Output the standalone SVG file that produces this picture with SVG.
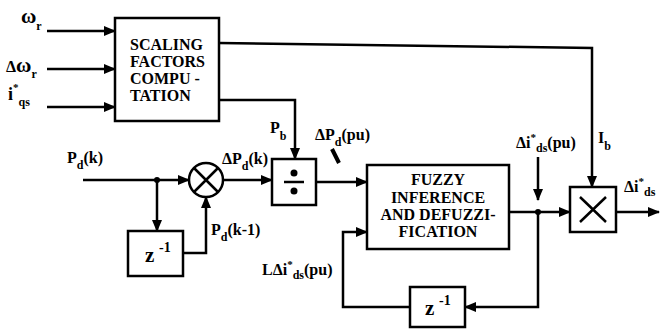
<svg xmlns="http://www.w3.org/2000/svg" width="661" height="329" viewBox="0 0 661 329">
<style>
.ln{fill:none;stroke:#000;stroke-width:2.5}
.bx{fill:#fff;stroke:#000;stroke-width:2.5}
.thick{fill:none;stroke:#000;stroke-width:4}
</style>
<defs>
<marker id="ah" markerUnits="userSpaceOnUse" markerWidth="12" markerHeight="10" refX="11" refY="5" orient="auto"><path d="M0,0 L12,5 L0,10 Z"/></marker>
</defs>
<rect width="661" height="329" fill="#fff"/>
<g id="connectors">
<path class="ln" marker-end="url(#ah)" d="M47,31 H115"/>
<path class="ln" marker-end="url(#ah)" d="M47,69 H115"/>
<path class="ln" marker-end="url(#ah)" d="M47,107 H115"/>
<path class="ln" marker-end="url(#ah)" d="M219,43 L592,48 V187"/>
<path class="ln" marker-end="url(#ah)" d="M219,100 H295 V159"/>
<path class="ln" marker-end="url(#ah)" d="M83,180 H189"/>
<path class="ln" marker-end="url(#ah)" d="M157,180 V231"/>
<path class="ln" marker-end="url(#ah)" d="M183,253 H206 V197"/>
<path class="ln" marker-end="url(#ah)" d="M223,180 H272"/>
<path class="ln" marker-end="url(#ah)" d="M316,182 H367"/>
<path class="ln" marker-end="url(#ah)" d="M509,212 H570"/>
<path class="ln" marker-end="url(#ah)" d="M538,157 V200"/>
<path class="ln" marker-end="url(#ah)" d="M616,212 H659"/>
<path class="ln" marker-end="url(#ah)" d="M538,212 V307 H465"/>
<path class="ln" marker-end="url(#ah)" d="M410,307 H343 V232 H367"/>
<path class="thick" d="M332,149 L339,163"/>
<circle cx="157" cy="180" r="3"/>
<circle cx="538" cy="212" r="3"/>
</g>
<g font-family="Liberation Serif, Times New Roman, serif" font-weight="bold" fill="#000">
<g id="scaling">
<rect class="bx" x="115" y="18" width="104" height="103"/>
<text font-size="16" x="130" y="50">SCALING</text>
<text font-size="16" x="130" y="67">FACTORS</text>
<text font-size="16" x="130" y="84">COMPU -</text>
<text font-size="16" x="130" y="101">TATION</text>
</g>
<g id="sum">
<circle class="bx" cx="206" cy="180" r="17"/>
<path class="ln" d="M194,168 L218,192 M218,168 L194,192"/>
</g>
<g id="delay1">
<rect class="bx" x="128" y="231" width="55" height="45"/>
<text font-size="21" x="145" y="262">z</text>
<text font-size="14" x="159" y="252">-1</text>
</g>
<g id="divide">
<rect class="bx" x="272" y="159" width="44" height="46"/>
<circle cx="294" cy="173" r="3.5"/>
<circle cx="294" cy="191" r="3.5"/>
<path class="ln" d="M284,182 H304"/>
</g>
<g id="fuzzy">
<rect class="bx" x="367" y="165" width="142" height="84"/>
<text font-size="16" x="438" y="185" text-anchor="middle">FUZZY</text>
<text font-size="16" x="438" y="203" text-anchor="middle">INFERENCE</text>
<text font-size="16" x="438" y="220" text-anchor="middle">AND DEFUZZI-</text>
<text font-size="16" x="438" y="237" text-anchor="middle">FICATION</text>
</g>
<g id="multiply">
<rect class="bx" x="570" y="187" width="46" height="45"/>
<path class="ln" d="M580,197 L606,222 M606,197 L580,222"/>
</g>
<g id="delay2">
<rect class="bx" x="410" y="287" width="55" height="40"/>
<text font-size="21" x="425" y="315">z</text>
<text font-size="14" x="439" y="305">-1</text>
</g>
<g id="labels" font-size="16">
<text x="21" y="23" font-size="21">ω<tspan font-size="12" dy="7">r</tspan></text>
<text x="6" y="72" font-size="16">Δ<tspan font-size="21">ω</tspan><tspan font-size="12" dy="6">r</tspan></text>
<text x="8" y="100" font-size="18">i<tspan font-size="11" dy="-9">*</tspan><tspan font-size="12" dy="15">qs</tspan></text>
<text x="67" y="163">P<tspan font-size="12" dy="6">d</tspan><tspan dy="-6">(k)</tspan></text>
<text x="222" y="164">ΔP<tspan font-size="12" dy="6">d</tspan><tspan dy="-6">(k)</tspan></text>
<text x="270" y="133">P<tspan font-size="12" dy="7">b</tspan></text>
<text x="315" y="140">ΔP<tspan font-size="12" dy="6">d</tspan><tspan dy="-6">(pu)</tspan></text>
<text x="211" y="235">P<tspan font-size="12" dy="6">d</tspan><tspan dy="-6">(k-1)</tspan></text>
<text x="516" y="148">Δi<tspan font-size="11" dy="-7">*</tspan><tspan font-size="12" dy="11">ds</tspan><tspan dy="-4">(pu)</tspan></text>
<text x="598" y="143">I<tspan font-size="12" dy="7">b</tspan></text>
<text x="624" y="192">Δi<tspan font-size="11" dy="-7">*</tspan><tspan font-size="12" dy="11">ds</tspan></text>
<text x="262" y="275">LΔi<tspan font-size="11" dy="-7">*</tspan><tspan font-size="12" dy="11">ds</tspan><tspan dy="-4">(pu)</tspan></text>
</g>
</g>
</svg>
